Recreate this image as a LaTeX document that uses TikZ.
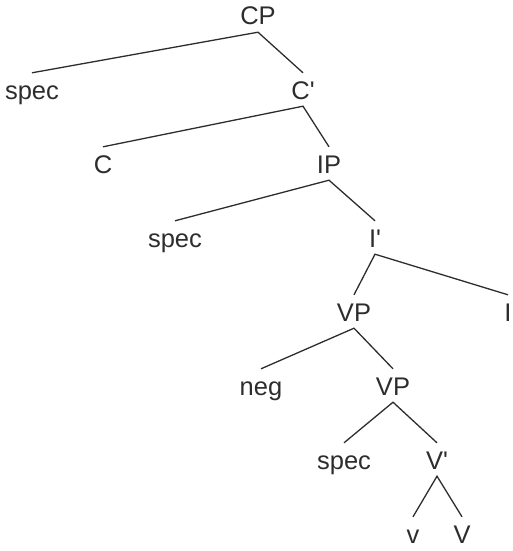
\documentclass[tikz,border=0pt]{standalone}
\usepackage{fontspec}
\setmainfont{Liberation Sans}
\definecolor{ink}{RGB}{45,45,45}
\begin{document}
\begin{tikzpicture}[x=1pt,y=-1pt,
  lbl/.style={anchor=base,inner sep=0pt,text height=26pt,text depth=7pt,
    font=\fontsize{25.5}{30}\selectfont,text=ink},
  edge/.style={draw=ink,line width=1.3pt}]
\useasboundingbox (0,0) rectangle (512,551);
\node[lbl] (cp) at (258,25) {CP};
\node[lbl] (spec1) at (32,99) {spec};
\node[lbl] (cbar) at (303,99) {C\textquotesingle};
\node[lbl] (c) at (103,173) {C};
\node[lbl] (ip) at (329,173) {IP};
\node[lbl] (spec2) at (175,247) {spec};
\node[lbl] (ibar) at (375,247) {I\textquotesingle};
\node[lbl] (vp1) at (354,321) {VP};
\node[lbl] (i) at (508,321) {I};
\node[lbl] (neg) at (261,395) {neg};
\node[lbl] (vp2) at (393,395) {VP};
\node[lbl] (spec3) at (344,469) {spec};
\node[lbl] (vbar) at (437,469) {V\textquotesingle};
\node[lbl] (vsmall) at (413,543) {v};
\node[lbl] (vbig) at (462,543) {V};
\draw[edge] (spec1.north) -- (cp.south) -- (cbar.north);
\draw[edge] (c.north) -- (cbar.south) -- (ip.north);
\draw[edge] (spec2.north) -- (ip.south) -- (ibar.north);
\draw[edge] (vp1.north) -- (ibar.south) -- (i.north);
\draw[edge] (neg.north) -- (vp1.south) -- (vp2.north);
\draw[edge] (spec3.north) -- (vp2.south) -- (vbar.north);
\draw[edge] (vsmall.north) -- (vbar.south) -- (vbig.north);
\end{tikzpicture}
\end{document}
